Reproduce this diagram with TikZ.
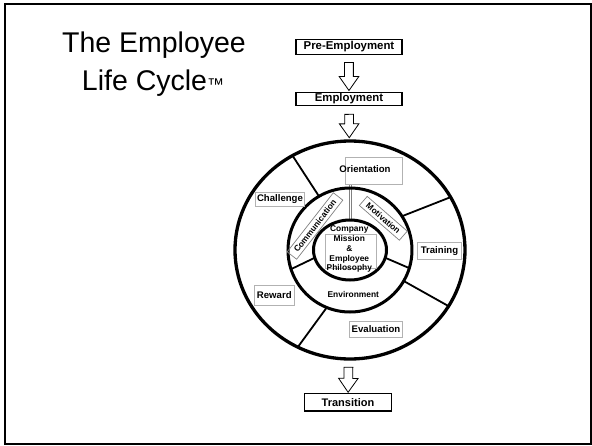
\documentclass[tikz,border=0pt]{standalone}
\usepackage{fontspec}
\setmainfont{Liberation Sans}
\usetikzlibrary{shapes.geometric}
\usetikzlibrary{shapes.arrows}
\usetikzlibrary{positioning}
\tikzset{Stage/.style={draw, line width=1.4pt, inner sep=0pt, font=\bfseries\fontsize{11.4}{12}\selectfont},
         Tag/.style={draw=gray!60, line width=0.7pt, inner sep=0pt},
         Word/.style={inner sep=0pt, font=\bfseries\fontsize{9.6}{11}\selectfont},
         Small/.style={inner sep=0pt, font=\bfseries\fontsize{8.4}{9.85}\selectfont},
         Head/.style={inner sep=0pt, font=\fontsize{28.5}{34}\selectfont},
         Flow/.style={single arrow, draw, line width=0.8pt, fill=white, minimum width=0pt, inner xsep=0pt, inner ysep=4pt,
                      single arrow head extend=5.35pt, single arrow tip angle=70, sloped, allow upside down},
         Sect/.style={line width=1.8pt},
         Pipe/.style={draw=gray, line width=0.6pt, double=white, double distance=1.6pt}}
\begin{document}
\begin{tikzpicture}[x=1pt, y=1pt]
  \useasboundingbox (-350,250) rectangle (242,-195);
  \draw[line width=2pt] (-345,246) rectangle (240.5,-193.5);
  \node[Head, anchor=base] (T0) at (-196,197) {The Employee};
  \node[Head, anchor=base] (T1) at (-197,159.3) {Life Cycle{\fontsize{17}{17}\selectfont ™}};
  \node[Stage, minimum width=105.7pt, minimum height=15pt] (S0) at (-1,203) {Pre-Employment};
  \node[Stage, minimum width=105.7pt, minimum height=13.5pt] (S1) at (-1,151) {Employment};
  \node[Stage, font=\bfseries\fontsize{11}{12}\selectfont, minimum width=87.4pt, minimum height=17.7pt] (S2) at (-2,-152.2) {Transition};
  \foreach \a/\b in {120/120, 33/29, -30/-31, 248/243}
    \draw[Sect] (\a:62) -- (\b:115 and 109);
  \foreach \a/\b in {198/195, -17/-15}
    \draw[Sect] (\a:62) -- (\b:36.5 and 30);
  \draw[Pipe] (-62,3) -- (-115,3);
  \draw[Pipe] (0.7,66) -- (0.7,30);
  \node[ellipse, draw, line width=3.3pt, inner sep=0pt, minimum width=230pt, minimum height=218pt] (R) at (0,0) {};
  \draw[line width=3pt] (0,0) circle (62pt);
  \draw[line width=3pt] (0,0) ellipse (36.5pt and 30pt);
  \node[Tag, minimum width=57.4pt, minimum height=27pt] (B0) at (24,79.2) {};
  \node[Word] (L0) at (15,80.7) {Orientation};
  \node[Tag, Word, minimum width=48.6pt, minimum height=14pt] (L1) at (-70,51) {Challenge};
  \node[Tag, Word, minimum width=44.4pt, minimum height=17pt] (L2) at (89.5,-0.8) {Training};
  \node[Tag, Word, minimum width=40pt, minimum height=20pt] (L3) at (-75.7,-45) {Reward};
  \node[Tag, Word, minimum width=53.4pt, minimum height=15.6pt] (L4) at (26,-79.5) {Evaluation};
  \node[Small] (E0) at (3.3,-44.3) {Environment};
  \node[Tag, draw=gray, Small, rotate=52, minimum width=75pt, minimum height=12pt] (M0) at (-35,24) {Communication};
  \node[Tag, draw=gray, Small, rotate=-41, minimum width=53pt, minimum height=12pt] (M1) at (33.3,31.7) {Motivation};
  \node[Tag, minimum width=51pt, minimum height=34pt] (B1) at (1.2,-1.3) {};
  \node[Small, align=center] (C0) at (-0.7,0.8) {Company\\Mission\\\&\\Employee\\Philosophy};
  \path[every edge/.style={}]
    (S0) edge node[Flow, minimum height=28pt] {} (S1)
    (S1) edge node[Flow, minimum height=23.4pt] {} (R)
    (R) edge node[Flow, minimum height=25pt] {} (S2);
\end{tikzpicture}
\end{document}
